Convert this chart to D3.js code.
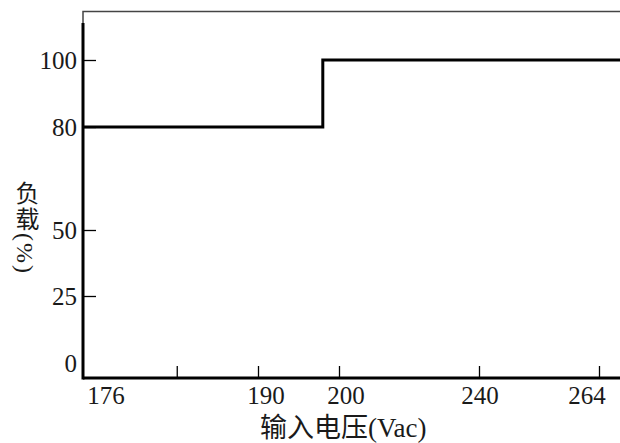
<!DOCTYPE html>
<html><head><meta charset="utf-8">
<script src="https://cdn.jsdelivr.net/npm/d3@7"></script>
<style>html,body{margin:0;padding:0;background:#fff;}svg{display:block;}</style>
</head><body>
<svg id="c" width="620" height="443"></svg>
<script>
// ---- data ----
const xTickLabels = [176, 190, 200, 240, 264];
const xTickMarks = [183.5, 190, 200, 240, 264];
const yTickLabels = [0, 25, 50, 80, 100];
const yTickMarks = [25, 50, 80, 100];
const stepVoltage = [176, 198, 198, 268];
const stepLoad = [80, 80, 100, 100];
const xTitle = "输入电压(Vac)";
const yTitle = "负载(%)";

const svg = d3.select("#c");
const axisY = 378;
const x = d3.scaleLinear().domain([176, 190, 200, 240, 264, 268]).range([83, 258, 339, 479, 599, 620]);
const xl = d3.scaleLinear().domain(xTickLabels).range([106, 266, 346, 480, 587]);
const y = d3.scaleLinear().domain([0, 25, 50, 80, 100, 111]).range([363, 296, 230, 127, 60, 23]);
const x0 = x.range()[0], x1 = x.range()[x.range().length - 1];
const font = "'Liberation Serif','Noto Sans CJK SC',serif";

// thin frame
svg.append("path").attr("d", `M${x0},${y(111)}V11.5H${x1}`)
  .attr("fill", "none").attr("stroke", "#444").attr("stroke-width", 1.5);

// tick marks
const gx = svg.append("g").attr("transform", `translate(0,${axisY})`)
  .call(d3.axisBottom(x).tickValues(xTickMarks).tickSizeInner(-12).tickSizeOuter(0).tickFormat(""));
gx.select(".domain").remove();
gx.selectAll(".tick line").attr("stroke", "#000").attr("stroke-width", 1.3);

const gy = svg.append("g").attr("transform", `translate(${x0},0)`)
  .call(d3.axisLeft(y).tickValues(yTickMarks).tickSizeInner(-13).tickSizeOuter(0).tickFormat(""));
gy.select(".domain").remove();
gy.selectAll(".tick line").attr("stroke", "#000").attr("stroke-width", 1.3);

// axis lines
svg.append("line").attr("x1", x0).attr("x2", x1).attr("y1", axisY).attr("y2", axisY)
  .attr("stroke", "#000").attr("stroke-width", 3);
svg.append("line").attr("x1", x0).attr("x2", x0).attr("y1", y(111)).attr("y2", axisY + 1.5)
  .attr("stroke", "#000").attr("stroke-width", 3);

// tick labels
svg.append("g").selectAll("text").data(xTickLabels).join("text")
  .attr("x", d => xl(d)).attr("y", 404).attr("text-anchor", "middle")
  .attr("font-family", font).attr("font-size", 25).attr("fill", "#1a1a1a").text(d => d);
svg.append("g").selectAll("text").data(yTickLabels).join("text")
  .attr("x", 77).attr("y", d => y(d)).attr("dy", "0.34em").attr("text-anchor", "end")
  .attr("font-family", font).attr("font-size", 25).attr("fill", "#1a1a1a").text(d => d);

// step line
const pts = stepVoltage.map((v, i) => [x(v), y(stepLoad[i])]);
svg.append("path").attr("d", d3.line()(pts)).attr("fill", "none")
  .attr("stroke", "#000").attr("stroke-width", 3).attr("stroke-linejoin", "miter");

// titles
svg.append("text").attr("x", 260).attr("y", 437).attr("font-family", font)
  .attr("font-size", 27).attr("fill", "#1a1a1a").text(xTitle);
svg.append("text").attr("x", 25).attr("y", 181).style("writing-mode", "vertical-rl")
  .style("letter-spacing", "2px")
  .attr("font-family", font).attr("font-size", 24).attr("fill", "#1a1a1a").text(yTitle);
</script>
</body></html>
